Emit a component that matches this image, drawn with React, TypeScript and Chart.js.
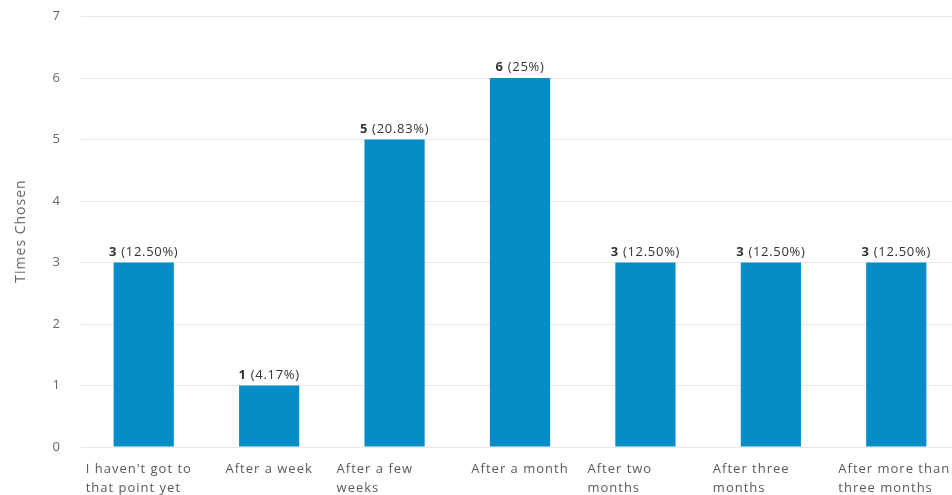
import React, { useEffect, useRef } from "react";
import { Chart, registerables } from "chart.js";

Chart.register(...registerables);

const categories: string[][] = [
  ["I haven't got to", "that point yet"],
  ["After a week"],
  ["After a few", "weeks"],
  ["After a month"],
  ["After two", "months"],
  ["After three", "months"],
  ["After more than", "three months"],
];
const counts: number[] = [3, 1, 5, 6, 3, 3, 3];
const percents: string[] = ["12.50%", "4.17%", "20.83%", "25%", "12.50%", "12.50%", "12.50%"];
const yTicks: number[] = [0, 1, 2, 3, 4, 5, 6, 7];
const yTitle = "Times Chosen";

const FONT = "'Open Sans', 'Noto Sans', sans-serif";

const customDraw = {
  id: "customDraw",
  afterDraw(chart: any) {
    const ctx = chart.ctx;
    const meta = chart.getDatasetMeta(0);
    const xScale = chart.scales.x;
    ctx.save();
    // data labels
    (ctx as any).letterSpacing = "0.7px";
    meta.data.forEach((bar: any, i: number) => {
      const boldTxt = String(counts[i]);
      const normTxt = " (" + percents[i] + ")";
      ctx.font = `bold 13px ${FONT}`;
      const wb = ctx.measureText(boldTxt).width;
      ctx.font = `13px ${FONT}`;
      const wn = ctx.measureText(normTxt).width;
      const start = bar.x - (wb + wn) / 2;
      const y = bar.y - 7;
      ctx.textBaseline = "alphabetic";
      ctx.textAlign = "left";
      ctx.fillStyle = "#333333";
      ctx.font = `bold 13px ${FONT}`;
      ctx.fillText(boldTxt, start, y);
      ctx.font = `13px ${FONT}`;
      ctx.fillText(normTxt, start + wb, y);
    });
    // x labels
    (ctx as any).letterSpacing = "1px";
    ctx.fillStyle = "#595959";
    ctx.font = `13px ${FONT}`;
    categories.forEach((lines, i) => {
      const cx = xScale.getPixelForValue(i);
      lines.forEach((ln, j) => {
        const y = 473 + j * 19;
        if (lines.length === 1) {
          ctx.textAlign = "center";
          ctx.fillText(ln, cx, y);
        } else {
          ctx.textAlign = "left";
          ctx.fillText(ln, cx - 58, y);
        }
      });
    });
    // y title
    ctx.translate(21, 231);
    ctx.rotate(-Math.PI / 2);
    ctx.textAlign = "center";
    ctx.textBaseline = "middle";
    ctx.fillStyle = "#666666";
    ctx.font = `14px ${FONT}`;
    ctx.fillText(yTitle, 0, 0);
    ctx.restore();
  },
};

export default function App() {
  const ref = useRef<HTMLCanvasElement>(null);
  useEffect(() => {
    if (!ref.current) return;
    const chart = new Chart(ref.current, {
      type: "bar",
      data: {
        labels: categories.map((c) => c.join(" ")),
        datasets: [
          {
            data: counts,
            backgroundColor: "#068dc8",
            barPercentage: 0.96,
            categoryPercentage: 0.5,
          },
        ],
      },
      options: {
        animation: false,
        responsive: false,
        maintainAspectRatio: false,
        layout: { padding: { top: 16.5, right: 1, left: 0, bottom: 0 } },
        plugins: { legend: { display: false }, tooltip: { enabled: false } },
        scales: {
          x: {
            grid: { display: false, drawTicks: false },
            border: { display: false },
            ticks: { display: false },
            afterFit: (s: any) => {
              s.height = 48;
              s.paddingLeft = 0;
              s.paddingRight = 0;
            },
          },
          y: {
            min: 0,
            max: 7,
            afterBuildTicks: (s: any) => {
              s.ticks = yTicks.map((v) => ({ value: v }));
            },
            grid: { color: "#e9e9e9", drawTicks: false, lineWidth: 1 },
            border: { display: false },
            ticks: {
              color: "#666666",
              font: { family: FONT, size: 13 },
              padding: 21,
            },
            afterFit: (s: any) => {
              s.width = 81;
              s.paddingTop = 0;
              s.paddingBottom = 0;
            },
          },
        },
      },
      plugins: [customDraw],
    });
    return () => chart.destroy();
  }, []);
  return (
    <div style={{ position: "absolute", left: 0, top: 0, width: 952, height: 495, overflow: "hidden", background: "#fff" }}>
      <canvas ref={ref} width={960} height={495} style={{ display: "block" }} />
    </div>
  );
}
